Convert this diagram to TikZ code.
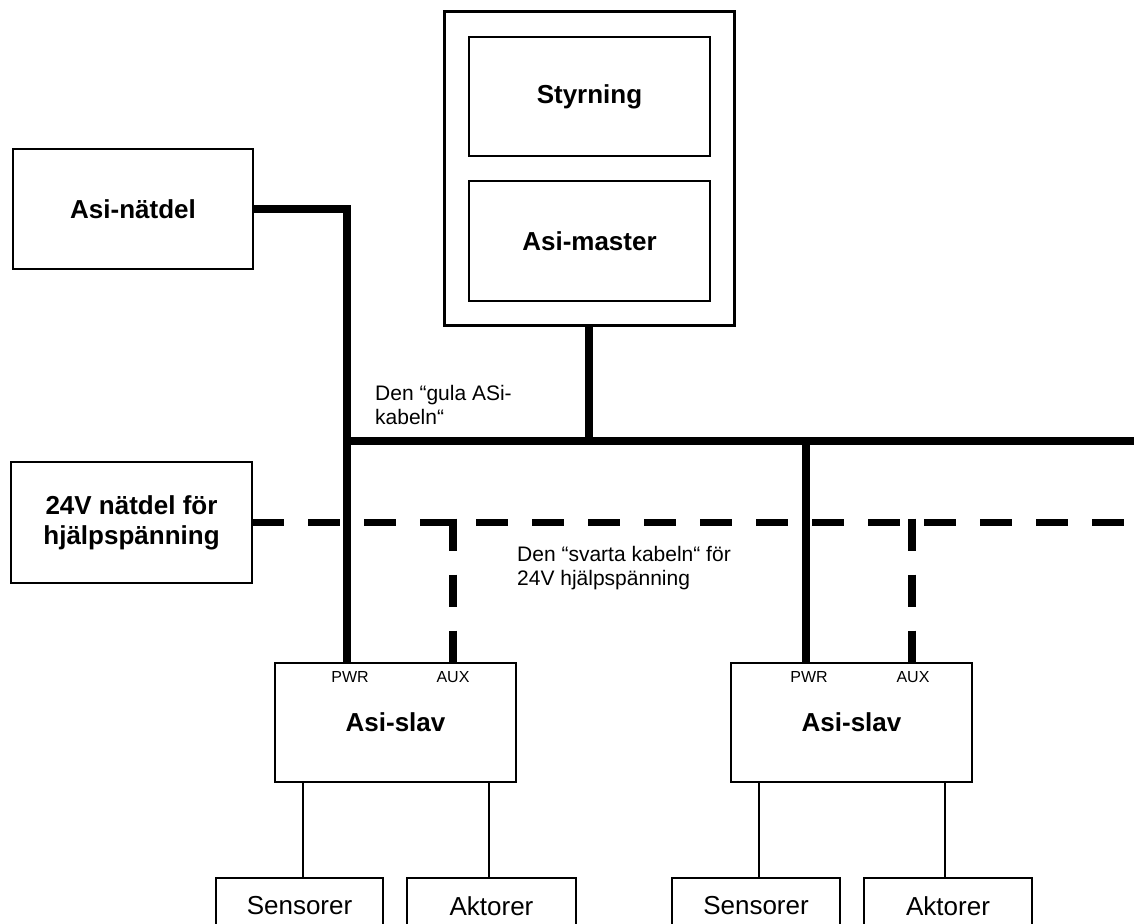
\documentclass[tikz,border=0pt]{standalone}
\usepackage{fontspec}
\setmainfont{Liberation Sans}
\begin{document}
\begin{tikzpicture}[x=1pt,y=-1pt,
  box/.style={draw, line width=1.5pt, outer sep=0pt, inner sep=0pt, align=center},
  bigbold/.style={font=\fontsize{26}{30}\selectfont\bfseries},
  plain/.style={font=\fontsize{26}{30}\selectfont},
  cable/.style={line width=7.5pt, line join=miter},
  auxcable/.style={line width=7.5pt, dash pattern=on 32pt off 24pt},
  wire/.style={line width=1.5pt},
  note/.style={font=\fontsize{21}{24}\selectfont, align=left, anchor=base west, inner sep=0pt},
  port/.style={font=\fontsize{16}{18}\selectfont, inner sep=0pt},
]
\useasboundingbox (0,0) rectangle (1134,923);
\clip (0,0) rectangle (1134,923);

% power supplies
\node[box, bigbold, minimum width=240pt, minimum height=120pt] (nat) at (133,209) {Asi-nätdel};
\node[box, bigbold, minimum width=241pt, minimum height=121pt] (aux24) at (131.5,522.5) {24V nätdel för\\hjälpspänning};

% controller with master
\node[box, line width=3pt, minimum width=290pt, minimum height=313pt] (plc) at (589,168.5) {};
\node[box, bigbold, minimum width=241pt, minimum height=119pt] (styr) at (589.5,96.5) {Styrning};
\node[box, bigbold, minimum width=241pt, minimum height=120pt] (master) at (589.5,241) {Asi-master};

% slaves
\node[box, bigbold, minimum width=241pt, minimum height=119pt] (slave1) at (395.5,722.5) {Asi-slav};
\node[box, bigbold, minimum width=241pt, minimum height=119pt] (slave2) at (851.5,722.5) {Asi-slav};
\node[port] (pwr1) at (350,677) {PWR};
\node[port] (auxl1) at (453,677) {AUX};
\node[port] (pwr2) at (809,677) {PWR};
\node[port] (auxl2) at (913,677) {AUX};

% field devices
\node[box, plain, minimum width=167pt, minimum height=56pt] (sen1) at (299.5,906) {Sensorer};
\node[box, plain, minimum width=169pt, minimum height=56pt] (akt1) at (491.5,906) {Aktorer};
\node[box, plain, minimum width=168pt, minimum height=56pt] (sen2) at (756,906) {Sensorer};
\node[box, plain, minimum width=168pt, minimum height=56pt] (akt2) at (948,906) {Aktorer};

\coordinate (w1) at (303,0);
\coordinate (w2) at (489,0);
\coordinate (w3) at (759,0);
\coordinate (w4) at (945,0);
\draw[wire] (slave1.south -| w1) -- (sen1.north -| w1);
\draw[wire] (slave1.south -| w2) -- (akt1.north -| w2);
\draw[wire] (slave2.south -| w3) -- (sen2.north -| w3);
\draw[wire] (slave2.south -| w4) -- (akt2.north -| w4);

% yellow AS-i cable
\coordinate (busL) at (347,441);
\coordinate (busR) at (1134,441);
\coordinate (tap2) at (806,441);
\draw[cable] (nat.east) -| (slave1.north -| busL);
\draw[cable] (busL) -- (busR);
\draw[cable] (plc.south) -- (plc.south |- busL);
\draw[cable] (tap2) -- (slave2.north -| tap2);

% black auxiliary cable
\coordinate (auxR) at (1134,522.5);
\coordinate (drop1) at (453,518.5);
\coordinate (drop2) at (912,518.5);
\draw[auxcable] (aux24.east) -- (auxR);
\draw[auxcable] (drop1) -- (slave1.north -| drop1);
\draw[auxcable] (drop2) -- (slave2.north -| drop2);

% cable captions (anchored at the baseline of their last line)
\node[note] (gula) at (375,424) {Den “gula ASi-\\kabeln“};
\node[note] (svarta) at (517,585) {Den “svarta kabeln“ för\\24V hjälpspänning};
\end{tikzpicture}
\end{document}
